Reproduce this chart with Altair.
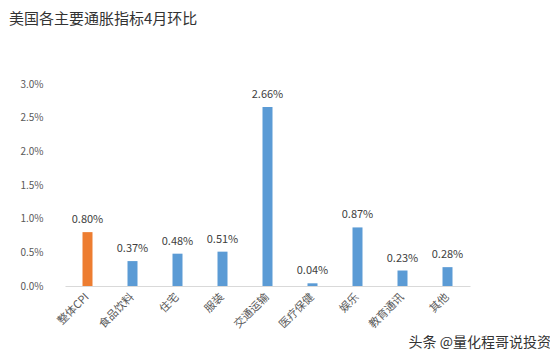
import altair as alt
import pandas as pd

categories = ["整体CPI", "食品饮料", "住宅", "服装", "交通运输", "医疗保健", "娱乐", "教育通讯", "其他"]
values = [0.80, 0.37, 0.48, 0.51, 2.66, 0.04, 0.87, 0.23, 0.28]
groups = ["total", "sub", "sub", "sub", "sub", "sub", "sub", "sub", "sub"]
labels = ["0.80%", "0.37%", "0.48%", "0.51%", "2.66%", "0.04%", "0.87%", "0.23%", "0.28%"]

df = pd.DataFrame({"cat": categories, "val": [v / 100 for v in values], "grp": groups, "lab": labels})

FONT = "Noto Sans CJK SC"

x = alt.X("cat:N", sort=categories, title=None,
          scale=alt.Scale(paddingInner=0, paddingOuter=0),
          axis=alt.Axis(labelAngle=-45, labelAlign="right", labelBaseline="middle",
                        labelFontSize=11, labelColor="#595959", labelFont=FONT,
                        ticks=False, domainColor="#d9d9d9", labelPadding=9))
y = alt.Y("val:Q", title=None,
          scale=alt.Scale(domain=[0, 0.03]),
          axis=alt.Axis(format=".1%", values=[0, 0.005, 0.01, 0.015, 0.02, 0.025, 0.03],
                        grid=False, domain=False, ticks=False, labelPadding=22,
                        labelFontSize=10, labelColor="#595959", labelFont=FONT))

base = alt.Chart(df)

bars = base.mark_bar(size=10).encode(
    x=x, y=y,
    color=alt.Color("grp:N", scale=alt.Scale(domain=["total", "sub"], range=["#ED7D31", "#5B9BD5"]), legend=None),
)

text = base.mark_text(baseline="bottom", dy=-7, fontSize=11, color="#404040", font=FONT).encode(
    x=x, y=y, text="lab:N"
)

wm = alt.Chart(pd.DataFrame({"t": ["头条 @量化程哥说投资"]})).mark_text(
    align="right", baseline="middle", fontSize=14, color="#333333", font=FONT
).encode(x=alt.value(486), y=alt.value(259), text="t:N")

chart = (bars + text + wm).properties(
    width=405, height=202,
    autosize=alt.AutoSizeParams(type="none"),
    padding={"left": 57, "top": 76, "right": 80, "bottom": 64},
    title=alt.TitleParams("美国各主要通胀指标4月环比", anchor="start", frame="group",
                          dx=-56, offset=52, fontSize=15, fontWeight="normal",
                          color="#333333", font=FONT),
).configure_view(stroke=None)

chart.save("out.html", embed_options={"renderer": "svg", "actions": False})
